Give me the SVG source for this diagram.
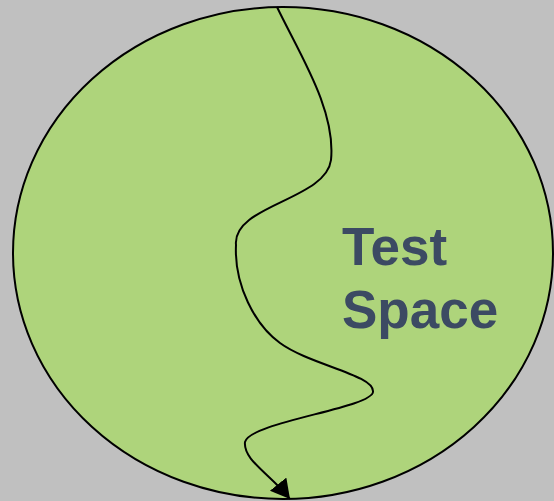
<svg xmlns="http://www.w3.org/2000/svg" width="554" height="501" viewBox="0 0 554 501">
<style>
.label{font-family:"Liberation Sans",Arial,sans-serif;font-weight:bold;font-size:53px;fill:#3c4a63}
.conn{fill:none;stroke:#000;stroke-width:2}
</style>
<defs>
<marker id="arrow" markerUnits="userSpaceOnUse" markerWidth="22" markerHeight="22" refX="19" refY="10.5" orient="auto">
<path d="M0,0 L19,10.5 L0,21 z" fill="#000"/>
</marker>
</defs>
<rect width="554" height="501" fill="#c0c0c0"/>
<g id="test-space">
<ellipse cx="283" cy="253" rx="270" ry="246" fill="#aed47b" stroke="#000" stroke-width="2"/>
<text class="label" x="342" y="265">Test</text>
<text class="label" x="342" y="328">Space</text>
</g>
<g id="connectors">
<path class="conn" marker-end="url(#arrow)" d="M277,7 C300,55 336,110 331,160 C326,200 232,205 236,245 C234,285 255,325 280,343 C310,365 375,375 373,392 C371,408 250,422 245,442 C243,460 270,474 290,499"/>
</g>
</svg>
